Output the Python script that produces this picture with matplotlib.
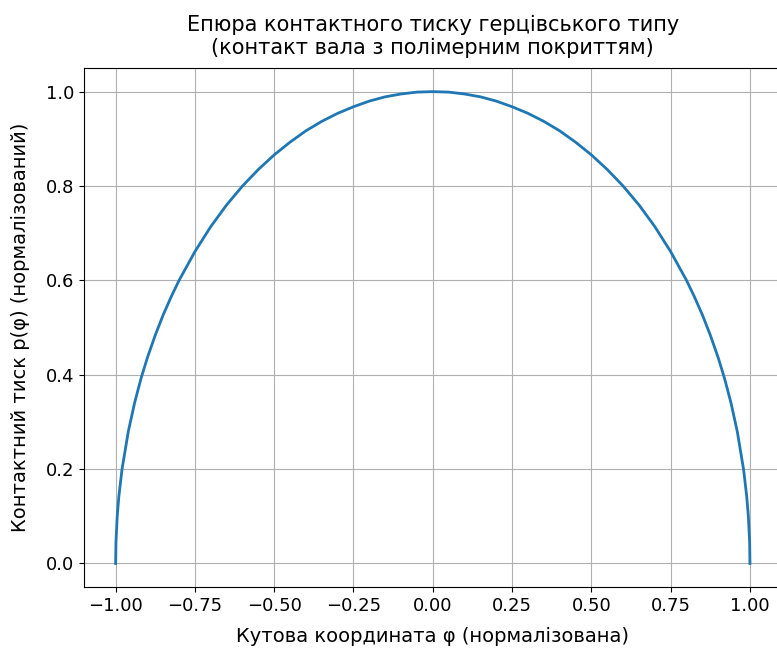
import matplotlib
matplotlib.use('Agg')
import matplotlib.pyplot as plt

# values (normalised angle vs normalised pressure)
phi = [-1.0, -0.999, -0.995, -0.99, -0.98, -0.96, -0.94, -0.92, -0.9, -0.875,
       -0.85, -0.825, -0.8, -0.75, -0.7, -0.65, -0.6, -0.55, -0.5, -0.45,
       -0.4, -0.35, -0.3, -0.25, -0.2, -0.15, -0.1, -0.05, 0.0,
       0.05, 0.1, 0.15, 0.2, 0.25, 0.3, 0.35, 0.4, 0.45, 0.5,
       0.55, 0.6, 0.65, 0.7, 0.75, 0.8, 0.825, 0.85, 0.875, 0.9,
       0.92, 0.94, 0.96, 0.98, 0.99, 0.995, 0.999, 1.0]
p = [0.0, 0.045, 0.100, 0.141, 0.199, 0.280, 0.341, 0.392, 0.436, 0.484,
     0.527, 0.565, 0.600, 0.661, 0.714, 0.760, 0.800, 0.835, 0.866, 0.893,
     0.917, 0.937, 0.954, 0.968, 0.980, 0.989, 0.995, 0.999, 1.0,
     0.999, 0.995, 0.989, 0.980, 0.968, 0.954, 0.937, 0.917, 0.893, 0.866,
     0.835, 0.800, 0.760, 0.714, 0.661, 0.600, 0.565, 0.527, 0.484, 0.436,
     0.392, 0.341, 0.280, 0.199, 0.141, 0.100, 0.045, 0.0]

fig, ax = plt.subplots(figsize=(7.77, 6.48), dpi=100)
ax.plot(phi, p, color='#1f77b4', linewidth=2)
ax.set_title('Епюра контактного тиску герцівського типу\n(контакт вала з полімерним покриттям)',
             fontsize=15, pad=10)
ax.set_xlabel('Кутова координата φ (нормалізована)', fontsize=14, labelpad=9)
ax.set_ylabel('Контактний тиск p(φ) (нормалізований)', fontsize=14, labelpad=11)
ax.tick_params(labelsize=13)
ax.grid(True)
# axes run slightly past the right edge of the figure, as in the reference
fig.subplots_adjust(left=0.108, right=1.006, top=0.895, bottom=0.094)
fig.savefig('out.png')
